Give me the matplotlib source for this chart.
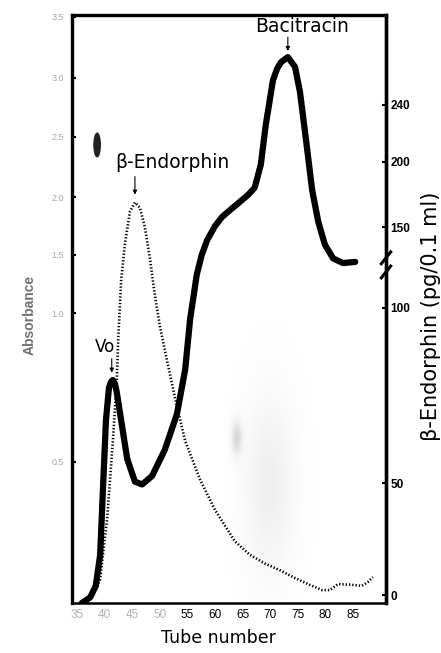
import numpy as np
import matplotlib.pyplot as plt
from matplotlib.scale import FuncScale
from matplotlib.patches import Ellipse

plt.rcParams['font.family'] = ['Liberation Sans', 'DejaVu Sans']

# Absorbance trace (thick line)
tube_abs = [35.9, 37.4, 38.4, 39.2, 39.7, 40.25, 40.8, 41.2, 41.5, 41.9, 42.2,
            43.0, 44.1, 45.5, 46.8, 48.6, 50.9, 53.1, 54.6, 55.5, 56.7, 57.6,
            58.6, 60.0, 61.3, 63.0, 64.5, 66.0, 67.2, 68.3, 69.2, 70.5, 71.3,
            72.0, 73.2, 74.5, 75.4, 76.5, 77.6, 78.7, 79.9, 81.4, 83.2, 85.4]
absorbance = [0.0, 0.02, 0.06, 0.17, 0.40, 0.64, 0.75, 0.77, 0.775, 0.76, 0.735,
              0.64, 0.51, 0.43, 0.42, 0.45, 0.54, 0.66, 0.81, 0.98, 1.33, 1.50,
              1.63, 1.75, 1.83, 1.90, 1.96, 2.02, 2.08, 2.27, 2.60, 2.98, 3.08,
              3.13, 3.17, 3.09, 2.88, 2.47, 2.06, 1.79, 1.59, 1.47, 1.43, 1.44]

# beta-endorphin immunoreactivity (dotted line)
tube_end = [36.4, 38.3, 39.2, 40.5, 41.5, 42.2, 42.5, 43.0, 43.7, 44.6, 45.5,
            46.4, 47.3, 48.2, 49.1, 50.0, 51.3, 52.8, 54.6, 57.3, 60.0, 63.6,
            66.3, 69.1, 71.8, 74.5, 77.2, 79.4, 80.8, 82.3, 84.5, 86.6, 87.7,
            88.6]
endorphin = [-3, 2, 7, 35, 62, 79, 92, 117, 140, 162, 169,
             165, 150, 131, 108, 95, 85, 74, 62, 51, 38, 24,
             18, 14, 11, 7.6, 4.5, 2.2, 2.2, 4.9, 4.6, 4.1, 5.8,
             8]

x_ticks = [35, 40, 45, 50, 55, 60, 65, 70, 75, 80, 85]
abs_ticks = [0.5, 1.0, 1.5, 2.0, 2.5, 3.0, 3.5]
abs_labels = ['0.5', '1.0', '1.5', '2.0', '2.5', '3.0', '3.5']
end_ticks = [0, 50, 100, 150, 200, 240]

# uneven spacing of both ordinates (value -> fraction of axis height)
abs_val = [0, 0.5, 1.0, 1.5, 2.0, 2.5, 3.0, 3.5, 3.52]
abs_frac = [0, 0.240, 0.493, 0.592, 0.690, 0.793, 0.893, 0.997, 1.0]
end_val = [-3.6, 0, 50, 100, 150, 200, 240, 303]
end_frac = [0, 0.0136, 0.204, 0.502, 0.639, 0.75, 0.847, 1.0]


def make_scale(vals, fracs):
    fwd = lambda v: np.interp(v, vals, fracs)
    inv = lambda f: np.interp(f, fracs, vals)
    return fwd, inv


fig = plt.figure(figsize=(4.41, 6.53), dpi=100)
ax = fig.add_axes([72 / 441, 50 / 653, 314 / 441, 588 / 653])
ax.set_yscale(FuncScale(ax, make_scale(abs_val, abs_frac)))

ax2 = ax.twinx()
ax2.set_yscale(FuncScale(ax2, make_scale(end_val, end_frac)))

# grey smudge on the print
gx, gy = np.meshgrid(np.linspace(0, 1, 200), np.linspace(0, 1, 200))
haze = (0.13 * np.exp(-(((gx - 0.63) / 0.08) ** 2 + ((gy - 0.20) / 0.15) ** 2))
        + 0.25 * np.exp(-(((gx - 0.525) / 0.018) ** 2 + ((gy - 0.28) / 0.03) ** 2)))
ax.imshow(haze, cmap='Greys', vmin=0, vmax=1, extent=(0, 1, 0, 1),
          transform=ax.transAxes, origin='lower', aspect='auto', zorder=0,
          interpolation='bilinear')
ax.add_patch(Ellipse((0.08, 0.779), 0.02, 0.04, transform=ax.transAxes,
                     color='#222222', zorder=1))

ax.plot(tube_abs, absorbance, color='black', lw=4.5, solid_capstyle='round',
        solid_joinstyle='round', zorder=3)
ax2.plot(tube_end, endorphin, color='black', lw=1.9, ls=(0, (0.5, 0.75)),
         zorder=3)

ax.set_xlim(34.1, 90.98)
ax.set_ylim(0, 3.52)
ax2.set_ylim(-3.6, 303)

# spines
for s in ['left', 'top', 'right']:
    ax.spines[s].set_linewidth(2.4)
ax.spines['bottom'].set_linewidth(1.8)
for s in ax2.spines.values():
    s.set_visible(False)
ax2.spines['right'].set_visible(True)
ax2.spines['right'].set_linewidth(2.4)

ax.set_xticks(x_ticks)
ax.set_xticklabels([str(t) for t in x_ticks], fontsize=8.5)
for lab, t in zip(ax.get_xticklabels(), x_ticks):
    lab.set_color('#b0b0b0' if t < 55 else 'black')
ax.tick_params(axis='x', length=0, pad=4)

ax.set_yticks(abs_ticks)
ax.set_yticklabels(abs_labels, fontsize=6.5, color='#a8a8a8')
ax.tick_params(axis='y', direction='in', length=3, width=1.5, pad=6)
ax.yaxis.set_minor_locator(plt.NullLocator())
ax.xaxis.set_minor_locator(plt.NullLocator())

ax2.set_yticks(end_ticks)
ax2.set_yticklabels([str(t) for t in end_ticks], fontsize=8.5,
                    fontweight='bold')
ax2.tick_params(axis='y', direction='in', length=3, width=1.5, pad=3)
ax2.yaxis.set_minor_locator(plt.NullLocator())

# axis break on the right scale
for dy in (-0.012, 0.012):
    ax2.plot([0.985, 1.015], [0.565 + dy, 0.585 + dy], transform=ax2.transAxes,
             color='black', lw=2.2, clip_on=False, zorder=5)

fig.text(218 / 441, 10 / 653, 'Tube number', fontsize=12.5,
         family='DejaVu Sans', ha='center', va='baseline')
fig.text(0.068, 0.518, 'Absorbance', rotation=90, fontsize=10,
         color='#707070', fontweight='bold', ha='center', va='center')
fig.text(0.978, 0.516, 'β-Endorphin (pg/0.1 ml)', rotation=90, fontsize=15,
         family='DejaVu Sans', ha='center', va='center')

# peak labels
arrow = dict(arrowstyle='-|>', lw=0.8, color='black', mutation_scale=6,
             shrinkA=0, shrinkB=0)
ax.annotate('', xy=(41.3, 0.80), xytext=(0, 10), textcoords='offset points',
            arrowprops=arrow)
ax.annotate('Vo', xy=(41.3, 0.80), xytext=(-5, 12), textcoords='offset points',
            ha='center', va='bottom', fontsize=12, family='DejaVu Sans')

ax.annotate('', xy=(73.2, 3.22), xytext=(0, 10), textcoords='offset points',
            arrowprops=arrow)
ax.annotate('Bacitracin', xy=(73.2, 3.22), xytext=(10, 14),
            textcoords='offset points', ha='center', va='baseline',
            fontsize=13.5, family='DejaVu Sans')

ax2.annotate('', xy=(45.5, 175), xytext=(0, 13), textcoords='offset points',
             arrowprops=arrow)
ax2.annotate('β-Endorphin', xy=(45.5, 175), xytext=(27, 19),
             textcoords='offset points', ha='center', va='baseline',
             fontsize=13.5, family='DejaVu Sans')

fig.savefig('out.png', dpi=100)
